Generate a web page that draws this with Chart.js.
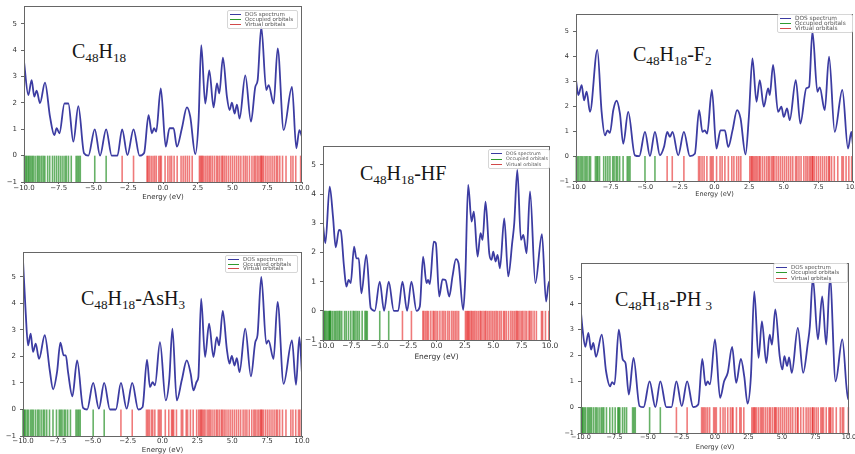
<!DOCTYPE html>
<html lang="en">
<head>
<meta charset="utf-8" />
<title>DOS spectra</title>
<script src="https://cdn.jsdelivr.net/npm/chart.js@4.4.1/dist/chart.umd.min.js"></script>
<style>
  html, body { margin: 0; padding: 0; background: #fff; }
  body { width: 855px; height: 454px; position: relative; overflow: hidden; font-family: "DejaVu Sans", sans-serif; }
  canvas { position: absolute; }
  .name { position: absolute; font-family: "Liberation Serif", "Times New Roman", serif; font-size: 20px; line-height: 20px; color: #161616; white-space: nowrap; }
  .name sub { font-size: 0.66em; vertical-align: -0.32em; line-height: 0; }
  .legend { position: absolute; box-sizing: border-box; border: 1px solid #d6d6d6; border-radius: 2px; background: rgba(255,255,255,0.85); color: #555; padding: 1px 2px; }
  .legend div { white-space: nowrap; }
  .legend i { display: inline-block; width: 11px; height: 0; border-top: 1px solid; vertical-align: middle; margin-right: 4px; }
</style>
</head>
<body>
<div class="name" style="left:72px;top:41px">C<sub>48</sub>H<sub>18</sub></div>
<div class="name" style="left:360px;top:163px">C<sub>48</sub>H<sub>18</sub>-HF</div>
<div class="name" style="left:633px;top:44px">C<sub>48</sub>H<sub>18</sub>-F<sub>2</sub></div>
<div class="name" style="left:81px;top:288px">C<sub>48</sub>H<sub>18</sub>-AsH<sub>3</sub></div>
<div class="name" style="left:615px;top:289px">C<sub>48</sub>H<sub>18</sub>-PH&#8201;<sub>3</sub></div>

<script>
// DOS curves, [energy (eV), DOS]
const dosC48H18 = [[-10,3.57],[-9.69,2.3],[-9.45,2.87],[-9.26,2.24],[-9.09,2.47],[-8.85,1.99],[-8.49,2.77],[-8.13,1.48],[-7.82,0.78],[-7.65,1.04],[-7.45,0.85],[-7.09,1.98],[-6.81,1.98],[-6.45,0.53],[-6.09,1.88],[-5.68,0.09],[-5.37,0],[-4.91,1.0],[-4.53,0],[-4.09,1.0],[-3.69,0],[-3.28,0],[-2.94,1.0],[-2.56,0.02],[-2.12,1.0],[-1.69,0],[-1.36,0.1],[-1.04,1.54],[-0.8,0.85],[-0.64,1.04],[-0.49,0.91],[-0.16,2.55],[0.2,0.34],[0.47,1.04],[0.76,1.04],[1.0,0.34],[1.36,1.04],[1.72,1.83],[1.96,1.48],[2.32,0.06],[2.56,1.35],[2.75,4.19],[3.04,1.98],[3.33,3.24],[3.64,1.83],[3.88,2.74],[4.05,2.36],[4.31,3.72],[4.6,2.23],[4.79,1.73],[4.96,2.01],[5.15,1.6],[5.32,1.94],[5.51,1.41],[5.92,3.05],[6.33,1.29],[6.64,2.61],[6.81,2.87],[7.07,4.89],[7.43,2.49],[7.6,2.68],[7.96,1.98],[8.25,4.07],[8.68,0.97],[9.28,2.61],[9.59,0.28],[9.81,0.97],[10,0.72]];
const dosHF = [[-10,2.95],[-9.79,2.32],[-9.41,4.26],[-9.12,3.23],[-8.88,2.18],[-8.59,2.77],[-8.44,2.75],[-8.15,1.52],[-7.94,0.83],[-7.74,1.06],[-7.56,0.95],[-7.26,2.2],[-7.06,1.8],[-6.85,1.8],[-6.62,0.6],[-6.18,1.92],[-5.79,0.09],[-5.44,0],[-5.0,1.0],[-4.62,0],[-4.21,1.0],[-3.76,0],[-3.38,0],[-3.0,1.0],[-2.59,0],[-2.21,1.0],[-1.76,0],[-1.47,0.15],[-1.18,1.86],[-0.88,0.95],[-0.74,1.06],[-0.59,0.92],[-0.24,2.37],[-0.06,2.32],[0.24,0.49],[0.53,1.08],[0.79,1.06],[1.12,0.49],[1.41,1.18],[1.71,1.77],[1.94,1.63],[2.35,0.03],[2.53,1.06],[2.79,4.32],[3.09,3.06],[3.29,3.4],[3.62,1.86],[3.88,2.66],[4.06,2.43],[4.32,3.74],[4.65,1.97],[4.85,1.75],[5.0,2.03],[5.21,1.69],[5.38,1.92],[5.59,1.46],[5.97,3.17],[6.32,1.18],[6.68,2.37],[6.85,3.0],[7.12,4.83],[7.44,2.43],[7.65,2.6],[7.94,1.97],[8.24,4.09],[8.71,0.95],[9.29,2.63],[9.65,0.32],[9.91,1.0],[10,0.83]];
const dosF2 = [[-10,3.05],[-9.83,2.45],[-9.59,2.85],[-9.42,2.24],[-9.23,2.58],[-8.99,1.77],[-8.46,4.26],[-8.15,1.77],[-7.91,0.83],[-7.72,1.03],[-7.55,0.93],[-7.31,1.84],[-7.07,2.22],[-6.83,1.71],[-6.59,0.5],[-6.23,1.77],[-5.75,0.03],[-5.43,0],[-5.02,0.97],[-4.66,0],[-4.3,0.97],[-3.94,0.03],[-3.65,0.36],[-3.41,0.97],[-3.22,0.77],[-3.03,0.97],[-2.62,0.03],[-2.21,0.97],[-1.78,0],[-1.42,0.09],[-1.11,1.84],[-0.87,0.97],[-0.7,1.03],[-0.53,0.9],[-0.19,2.65],[0.14,0.3],[0.43,1.03],[0.75,1.03],[0.99,0.36],[1.3,1.03],[1.63,1.84],[1.88,1.51],[2.24,0.07],[2.48,1.57],[2.74,3.92],[3.03,2.18],[3.27,3.05],[3.56,1.98],[3.87,2.72],[3.99,2.45],[4.23,3.66],[4.59,1.77],[4.83,1.98],[5.0,1.57],[5.24,1.91],[5.43,1.44],[5.87,3.05],[6.2,1.3],[6.63,2.72],[6.83,2.78],[7.07,5.0],[7.43,2.58],[7.6,2.76],[7.96,1.84],[8.27,3.99],[8.68,0.97],[9.23,2.65],[9.64,0.3],[9.88,0.97],[10,0.43]];
const dosAsH3 = [[-10,5.63],[-9.81,3.68],[-9.64,2.42],[-9.45,2.86],[-9.28,2.17],[-9.09,2.48],[-8.85,1.91],[-8.44,2.8],[-8.08,1.47],[-7.84,0.76],[-7.56,1.41],[-7.32,2.52],[-7.08,2.04],[-6.93,2.04],[-6.77,1.41],[-6.46,0.5],[-6.12,1.85],[-5.69,0.06],[-5.4,0],[-4.97,1.0],[-4.56,0.03],[-4.18,1.0],[-3.77,0],[-3.34,0],[-2.98,1.0],[-2.57,0.03],[-2.17,1.0],[-1.74,0],[-1.43,0.09],[-1.11,1.88],[-0.9,0.84],[-0.71,1.03],[-0.54,0.91],[-0.18,2.54],[0.23,0.34],[0.49,1.16],[0.71,3.05],[1.02,0.34],[1.38,1.1],[1.74,1.85],[2.02,1.35],[2.22,0.72],[2.46,1.06],[2.57,1.22],[2.77,4.18],[3.05,1.98],[3.34,3.24],[3.65,1.98],[3.89,2.73],[4.06,2.42],[4.32,3.72],[4.61,2.29],[4.8,1.73],[4.97,2.02],[5.16,1.66],[5.33,1.94],[5.52,1.41],[5.93,3.05],[6.34,1.25],[6.65,2.54],[6.81,2.8],[7.08,5.0],[7.44,2.48],[7.6,2.61],[7.96,1.91],[8.25,4.06],[8.68,0.97],[9.28,2.61],[9.57,0.93],[9.81,2.73],[10,1.35]];
const dosPH3 = [[-10,3.65],[-9.88,3.0],[-9.68,2.33],[-9.45,2.87],[-9.25,2.23],[-9.08,2.49],[-8.88,1.95],[-8.45,2.81],[-8.13,1.39],[-7.83,0.81],[-7.68,0.97],[-7.5,0.88],[-7.18,3.0],[-6.88,1.84],[-6.68,1.71],[-6.43,0.49],[-6.08,1.91],[-5.63,0.04],[-5.33,0],[-4.88,1.0],[-4.45,0],[-4.08,1.0],[-3.63,0],[-3.25,0],[-2.88,1.0],[-2.48,0.04],[-2.08,1.0],[-1.63,0],[-1.25,0.1],[-0.95,1.87],[-0.7,0.84],[-0.55,1.0],[-0.38,0.88],[0.0,2.62],[0.38,0.36],[0.68,1.0],[0.95,1.33],[1.28,2.33],[1.58,0.94],[1.93,1.87],[2.18,1.2],[2.43,0.14],[2.68,1.2],[2.93,4.48],[3.25,1.91],[3.5,3.32],[3.83,1.71],[4.08,2.81],[4.25,2.42],[4.5,3.78],[4.83,1.97],[5.03,1.46],[5.18,1.97],[5.38,1.59],[5.53,1.93],[5.73,1.33],[6.18,3.07],[6.58,1.33],[6.93,2.49],[7.08,3.13],[7.3,5.0],[7.68,2.62],[8.0,4.29],[8.3,2.42],[8.58,5.0],[9.0,1.0],[9.5,2.62],[9.93,0.3],[10,1.0]];

// occupied / virtual orbital energies (eV)
const occC48H18 = [-9.97,-9.88,-9.8,-9.7,-9.62,-9.52,-9.42,-9.33,-9.2,-9.05,-8.95,-8.85,-8.72,-8.6,-8.5,-8.3,-8.15,-7.95,-7.8,-7.65,-7.5,-7.35,-7.2,-7.05,-6.95,-6.8,-6.6,-6.25,-6.15,-6.05,-5.95,-4.91,-4.09];
const virC48H18 = [-2.94,-2.12,-1.15,-1.08,-0.98,-0.85,-0.72,-0.6,-0.48,-0.3,-0.2,-0.12,0.15,0.35,0.5,0.62,0.8,1.02,1.3,1.45,1.6,1.75,1.9,2.1,2.62,2.7,2.78,2.85,2.95,3.08,3.2,3.32,3.42,3.55,3.7,3.85,3.95,4.08,4.22,4.3,4.42,4.55,4.7,4.85,5.0,5.15,5.3,5.45,5.6,5.78,5.92,6.05,6.22,6.4,6.55,6.65,6.78,6.9,7.02,7.08,7.15,7.25,7.4,7.55,7.7,7.85,8.0,8.15,8.25,8.4,8.6,8.85,9.2,9.35,9.55,9.9];
const occHF = [-9.98,-9.9,-9.82,-9.72,-9.6,-9.5,-9.42,-9.38,-9.3,-9.15,-9.0,-8.88,-8.75,-8.6,-8.5,-8.35,-8.1,-7.95,-7.75,-7.55,-7.35,-7.25,-7.1,-6.95,-6.8,-6.55,-6.3,-6.2,-6.1,-5.0,-4.21];
const virHF = [-3.0,-2.21,-1.2,-1.1,-0.95,-0.82,-0.7,-0.5,-0.3,-0.2,-0.05,0.1,0.3,0.5,0.65,0.8,1.0,1.15,1.35,1.5,1.65,1.8,1.95,2.55,2.65,2.75,2.82,2.92,3.05,3.15,3.28,3.4,3.55,3.7,3.85,3.95,4.1,4.25,4.35,4.5,4.65,4.8,4.95,5.1,5.25,5.38,5.55,5.7,5.9,6.0,6.15,6.35,6.55,6.7,6.85,7.0,7.1,7.2,7.35,7.5,7.62,7.8,7.95,8.15,8.25,8.4,8.6,8.8,9.25,9.35,9.6,9.9];
const occF2 = [-9.98,-9.88,-9.78,-9.65,-9.55,-9.42,-9.3,-9.2,-9.05,-8.95,-8.6,-8.5,-8.42,-8.3,-8.0,-7.85,-7.7,-7.55,-7.35,-7.25,-7.1,-7.0,-6.85,-6.6,-6.3,-6.2,-6.1,-5.02,-4.3];
const virF2 = [-3.42,-3.05,-2.21,-1.15,-1.05,-0.9,-0.75,-0.55,-0.3,-0.2,-0.1,0.15,0.4,0.55,0.75,1.0,1.25,1.4,1.6,1.75,1.9,2.55,2.65,2.72,2.8,2.9,3.0,3.1,3.22,3.3,3.45,3.6,3.75,3.88,3.98,4.12,4.22,4.3,4.45,4.6,4.75,4.9,5.05,5.2,5.35,5.5,5.65,5.85,5.95,6.1,6.25,6.45,6.6,6.72,6.85,6.95,7.05,7.1,7.2,7.35,7.5,7.65,7.8,7.95,8.1,8.25,8.3,8.45,8.65,8.9,9.2,9.3,9.5,9.7,9.9];
const occAsH3 = [-10.0,-9.95,-9.9,-9.82,-9.7,-9.6,-9.45,-9.35,-9.25,-9.1,-8.95,-8.85,-8.7,-8.55,-8.45,-8.3,-8.1,-7.85,-7.6,-7.4,-7.3,-7.2,-7.05,-6.95,-6.8,-6.6,-6.2,-6.1,-6.0,-5.9,-4.97,-4.18];
const virAsH3 = [-2.98,-2.17,-1.15,-1.05,-0.95,-0.8,-0.7,-0.55,-0.3,-0.2,-0.1,0.2,0.45,0.65,0.72,0.8,1.0,1.35,1.45,1.7,1.8,2.0,2.2,2.45,2.6,2.7,2.78,2.85,2.95,3.05,3.2,3.32,3.42,3.55,3.7,3.85,3.95,4.08,4.22,4.3,4.42,4.55,4.7,4.85,5.0,5.15,5.3,5.45,5.6,5.78,5.92,6.05,6.22,6.4,6.55,6.65,6.78,6.9,7.02,7.08,7.15,7.25,7.4,7.55,7.7,7.85,8.0,8.15,8.25,8.4,8.6,8.85,9.2,9.35,9.55,9.75,9.85];
const occPH3 = [-9.98,-9.9,-9.85,-9.75,-9.65,-9.5,-9.4,-9.3,-9.2,-9.05,-8.9,-8.8,-8.65,-8.5,-8.4,-8.3,-8.1,-7.85,-7.65,-7.45,-7.25,-7.18,-7.1,-6.9,-6.75,-6.6,-6.15,-6.05,-5.95,-4.88,-4.08];
const virPH3 = [-2.88,-2.08,-1.0,-0.9,-0.8,-0.68,-0.55,-0.4,-0.1,0.0,0.1,0.4,0.6,0.75,0.95,1.15,1.28,1.35,1.6,1.85,1.95,2.15,2.75,2.85,2.93,3.0,3.1,3.25,3.4,3.5,3.6,3.75,3.9,4.05,4.15,4.3,4.45,4.5,4.6,4.75,4.9,5.05,5.2,5.35,5.5,5.65,5.8,6.0,6.15,6.2,6.4,6.6,6.8,6.95,7.1,7.25,7.3,7.4,7.55,7.7,7.9,8.0,8.1,8.3,8.5,8.58,8.65,8.8,9.05,9.35,9.5,9.6,9.95];

const legendLabels = ['DOS spectrum', 'Occupied orbitals', 'Virtual orbitals'];
const legendColors = ['#3a3aa0', '#2f9a2f', '#d24a4a'];

// where each panel's plot frame sits on the page
const panels = [
  { dos: dosC48H18, occ: occC48H18, vir: virC48H18, box: { l: 24, t: 6, r: 302, b: 182 }, ymax: 5.68, fs: 7, tp: 0, tb: 5, lg: { l: 227, t: 10, w: 71, h: 19, fs: 5.5 } },
  { dos: dosHF, occ: occHF, vir: virHF, box: { l: 323, t: 146, r: 550, b: 340 }, ymax: 5.65, fs: 7.5, tp: -0.5, tb: 2, lg: { l: 488, t: 149, w: 62, h: 20, fs: 4.8 } },
  { dos: dosF2, occ: occF2, vir: virF2, box: { l: 576, t: 14, r: 853, b: 181 }, ymax: 5.7, fs: 6.5, tp: 0, tb: 7, lg: { l: 777, t: 14, w: 76, h: 19, fs: 5.8 } },
  { dos: dosAsH3, occ: occAsH3, vir: virAsH3, box: { l: 23, t: 252, r: 302, b: 436 }, ymax: 5.94, fs: 7, tp: -1, tb: 5.5, lg: { l: 225, t: 255, w: 73, h: 18, fs: 5.5 } },
  { dos: dosPH3, occ: occPH3, vir: virPH3, box: { l: 581, t: 263, r: 849, b: 433 }, ymax: 5.58, fs: 6.5, tp: -1.5, tb: 6, lg: { l: 773, t: 263, w: 75, h: 20, fs: 5.5 } },
]

const minus = v => (v < 0 ? '\u2212' : '') + Math.abs(v)

const orbitalSticks = {
  id: 'orbitalSticks',
  beforeDatasetsDraw(chart, args, opts) {
    const { ctx, scales: { x, y } } = chart
    const y0 = y.getPixelForValue(-1)
    const y1 = y.getPixelForValue(0)
    ctx.save()
    ctx.lineWidth = 1.6
    const draw = (list, color) => {
      ctx.strokeStyle = color
      list.forEach(e => {
        const px = x.getPixelForValue(e)
        ctx.beginPath()
        ctx.moveTo(px, y0)
        ctx.lineTo(px, y1)
        ctx.stroke()
      })
    }
    draw(opts.occ, 'rgba(0,125,0,0.6)')
    draw(opts.vir, 'rgba(225,0,0,0.52)')
    ctx.restore()
  },
}

const frame = {
  id: 'frame',
  afterDraw(chart) {
    const { ctx, chartArea: a } = chart
    ctx.save()
    ctx.strokeStyle = '#666'
    ctx.lineWidth = 1
    ctx.strokeRect(Math.round(a.left) + 0.5, Math.round(a.top) + 0.5, Math.round(a.right - a.left) - 1, Math.round(a.bottom - a.top))
    ctx.restore()
  },
}

panels.forEach(p => {
  const yw = 24, padT = 2, padR = 12, xh = 24
  const W = yw + (p.box.r - p.box.l) + padR
  const H = padT + (p.box.b - p.box.t) + xh
  const cv = document.createElement('canvas')
  cv.width = W
  cv.height = H
  cv.style.left = (p.box.l - yw) + 'px'
  cv.style.top = (p.box.t - padT) + 'px'
  document.body.appendChild(cv)

  const font = { size: p.fs, family: 'DejaVu Sans' }
  new Chart(cv.getContext('2d'), {
    type: 'scatter',
    data: {
      datasets: [{
        data: p.dos.map(([x, y]) => ({ x, y })),
        showLine: true,
        pointRadius: 0,
        borderColor: '#3c3ca2',
        borderWidth: 1.8,
        cubicInterpolationMode: 'monotone',
      }],
    },
    options: {
      responsive: false,
      animation: false,
      devicePixelRatio: 1,
      layout: { padding: { top: padT, right: padR, left: 0, bottom: 0 } },
      plugins: {
        legend: { display: false },
        tooltip: { enabled: false },
        orbitalSticks: { occ: p.occ, vir: p.vir },
      },
      scales: {
        x: {
          type: 'linear', min: -10, max: 10,
          afterFit: s => { s.height = xh; s.paddingLeft = 0; s.paddingRight = 0 },
          ticks: { stepSize: 2.5, autoSkip: false, maxRotation: 0, padding: p.tp, color: '#333', font,
            callback: v => (v < 0 ? '\u2212' : '') + Math.abs(v).toFixed(1) },
          grid: { drawOnChartArea: false, tickLength: 2, color: '#666' },
          border: { display: false },
          title: { display: true, text: 'Energy (eV)', color: '#333', font, padding: { top: 0, bottom: p.tb } },
        },
        y: {
          min: -1, max: p.ymax,
          afterFit: s => { s.width = yw; s.paddingTop = 0; s.paddingBottom = 0 },
          ticks: { stepSize: 1, includeBounds: false, padding: 4, color: '#333', font, callback: v => minus(v) },
          grid: { drawOnChartArea: false, tickLength: 3, color: '#666' },
          border: { display: false },
        },
      },
    },
    plugins: [orbitalSticks, frame],
  })

  // legend box, top right of the frame
  const lg = document.createElement('div')
  lg.className = 'legend'
  lg.style.cssText = `left:${p.lg.l}px;top:${p.lg.t}px;width:${p.lg.w}px;height:${p.lg.h}px;font-size:${p.lg.fs}px`
  legendLabels.forEach((txt, i) => {
    const row = document.createElement('div')
    row.style.height = row.style.lineHeight = ((p.lg.h - 4) / 3) + 'px'
    row.innerHTML = `<i style="border-color:${legendColors[i]}"></i>${txt}`
    lg.appendChild(row)
  })
  document.body.appendChild(lg)
})
</script>
</body>
</html>
